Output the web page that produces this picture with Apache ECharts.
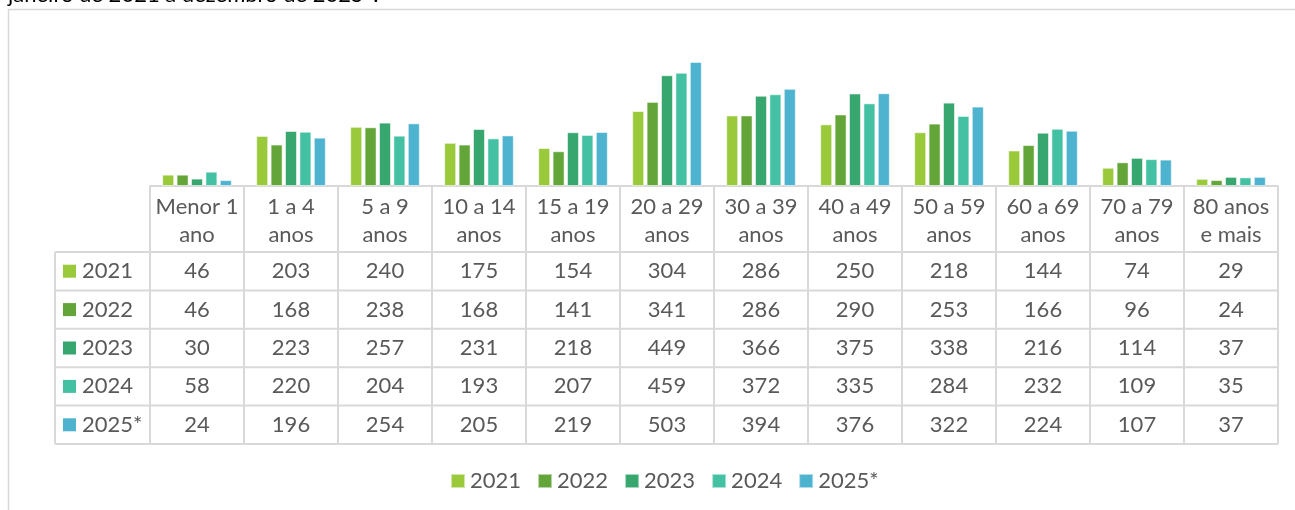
<!DOCTYPE html>
<html>
<head>
<meta charset="utf-8">
<script src="https://cdn.jsdelivr.net/npm/echarts@6/dist/echarts.min.js"></script>
<style>
  html, body { margin: 0; padding: 0; background: #fff; }
  #chart { width: 1295px; height: 510px; }
</style>
</head>
<body>
<div id="chart"></div>
<script>
// faixas etarias (linha de cabecalho da tabela)
const categories = ['Menor 1\nano', '1 a 4\nanos', '5 a 9\nanos', '10 a 14\nanos', '15 a 19\nanos',
  '20 a 29\nanos', '30 a 39\nanos', '40 a 49\nanos', '50 a 59\nanos', '60 a 69\nanos',
  '70 a 79\nanos', '80 anos\ne mais']
const years = ['2021', '2022', '2023', '2024', '2025*']
const s2021 = [46, 203, 240, 175, 154, 304, 286, 250, 218, 144, 74, 29]
const s2022 = [46, 168, 238, 168, 141, 341, 286, 290, 253, 166, 96, 24]
const s2023 = [30, 223, 257, 231, 218, 449, 366, 375, 338, 216, 114, 37]
const s2024 = [58, 220, 204, 193, 207, 459, 372, 335, 284, 232, 109, 35]
const s2025 = [24, 196, 254, 205, 219, 503, 394, 376, 322, 224, 107, 37]
const seriesData = [s2021, s2022, s2023, s2024, s2025]
const colors = ['#9aca3c', '#63a538', '#37a66f', '#44c1a3', '#4db3cf']
const titleText = 'janeiro de 2021 a dezembro de 2025*.'

const font = 'Lato, "Open Sans", sans-serif'
const textColor = '#595959'
const lineColor = '#d9d9d9'
const fs = 22

const chart = echarts.init(document.getElementById('chart'))

chart.setOption({
  animation: false,
  textStyle: { fontFamily: font },
  color: colors,
  grid: { left: 150, right: 17, top: 38, bottom: 324 },
  legend: {
    data: years,
    left: 445,
    top: 465,
    icon: 'rect',
    itemWidth: 14,
    itemHeight: 14,
    itemGap: 16,
    textStyle: { fontSize: fs, color: textColor, fontFamily: font }
  },
  xAxis: {
    type: 'category',
    data: categories,
    axisLine: { lineStyle: { color: lineColor, width: 2 } },
    axisTick: { show: false },
    axisLabel: {
      interval: 0,
      margin: 7,
      fontSize: fs,
      lineHeight: 28,
      color: textColor,
      fontFamily: font
    }
  },
  yAxis: {
    type: 'value',
    min: 0,
    max: 600,
    show: false,
    splitLine: { show: false }
  },
  series: seriesData.map((d, i) => ({
    name: years[i],
    type: 'bar',
    data: d,
    barWidth: 12,
    barGap: '20%',
    itemStyle: { borderColor: 'rgba(255,255,255,0.55)', borderWidth: 1 }
  }))
})

// tabela de dados abaixo do grafico
function buildTable() {
  const tableLeft = 55
  const headTop = 186
  const rowsTop = 252
  const rowH = 38.4
  const rowsBottom = rowsTop + years.length * rowH
  const g = []
  const line = (x1, y1, x2, y2) => ({
    type: 'line', shape: { x1, y1, x2, y2 }, silent: true,
    style: { stroke: lineColor, lineWidth: 2 }
  })

  g.push({
    type: 'text', left: 8, top: -16,
    style: { text: titleText, fontSize: fs, fill: '#000', fontFamily: font }
  })
  g.push({
    type: 'rect', shape: { x: 8.5, y: 9.5, width: 1300, height: 520 },
    style: { fill: null, stroke: lineColor, lineWidth: 1.5 }, silent: true, z: -1
  })

  // limites das colunas a partir do eixo de categorias
  const c0 = chart.convertToPixel({ xAxisIndex: 0 }, 0)
  const c1 = chart.convertToPixel({ xAxisIndex: 0 }, 1)
  const band = c1 - c0
  const tableRight = c0 - band / 2 + categories.length * band
  for (let c = 0; c <= categories.length; c++) {
    const x = c0 - band / 2 + c * band
    g.push(line(x, headTop, x, rowsBottom))
  }
  for (let r = 0; r <= years.length; r++) {
    const y = rowsTop + r * rowH
    g.push(line(tableLeft, y, tableRight, y))
  }
  g.push(line(tableLeft, rowsTop, tableLeft, rowsBottom))

  years.forEach((yr, r) => {
    const cy = rowsTop + r * rowH + rowH / 2
    g.push({
      type: 'rect', shape: { x: 63, y: cy - 6.5, width: 13, height: 13 },
      style: { fill: colors[r] }
    })
    g.push({
      type: 'text', x: 82, y: cy,
      style: { text: yr, fontSize: fs, fill: textColor, fontFamily: font, textVerticalAlign: 'middle' }
    })
    seriesData[r].forEach((v, c) => {
      const cx = chart.convertToPixel({ xAxisIndex: 0 }, c)
      g.push({
        type: 'text', x: cx, y: cy,
        style: { text: String(v), fontSize: fs, fill: textColor, fontFamily: font, textAlign: 'center', textVerticalAlign: 'middle' }
      })
    })
  })
  chart.setOption({ graphic: g })
}
buildTable()
</script>
</body>
</html>
